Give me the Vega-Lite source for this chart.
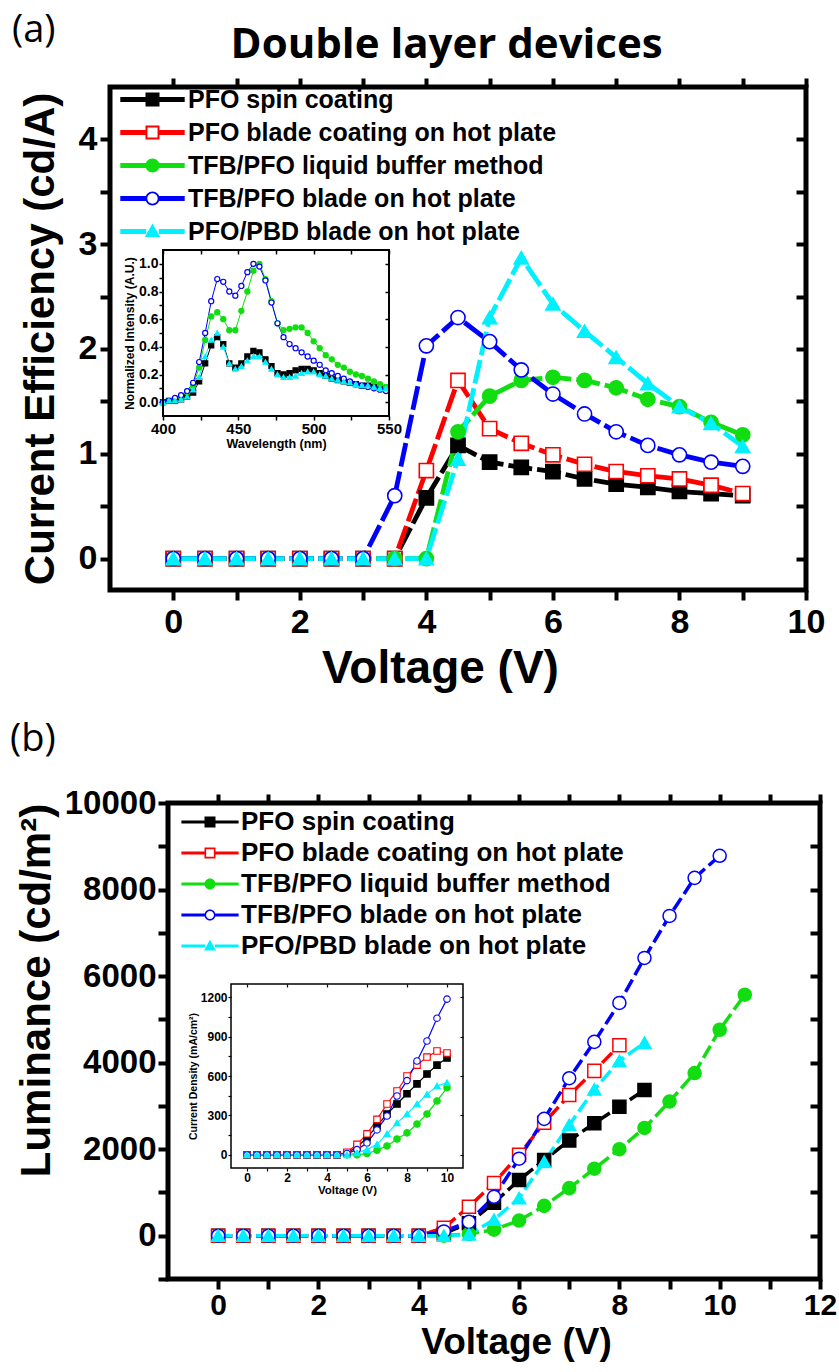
{
"$schema":"https://vega.github.io/schema/vega-lite/v6.json",
"width":839,"height":1372,"autosize":{"type":"none"},"padding":0,"background":"white",
"config":{"view":{"stroke":null},"font":"Liberation Sans","axis":{"grid":false,"labelFlush":false,"labelOverlap":false,"labelColor":"black","titleColor":"black","tickColor":"black","domainColor":"black","labelFont":"Liberation Sans","titleFont":"Liberation Sans","labelFontWeight":"bold","titleFontWeight":"bold"}},
"datasets":{
"ce":[
{"s":"PFO spin coating","v":0,"y":0},{"s":"PFO spin coating","v":0.5,"y":0},{"s":"PFO spin coating","v":1,"y":0},{"s":"PFO spin coating","v":1.5,"y":0},{"s":"PFO spin coating","v":2,"y":0},{"s":"PFO spin coating","v":2.5,"y":0},{"s":"PFO spin coating","v":3,"y":0},{"s":"PFO spin coating","v":3.5,"y":0},{"s":"PFO spin coating","v":4,"y":0.58},{"s":"PFO spin coating","v":4.5,"y":1.08},{"s":"PFO spin coating","v":5,"y":0.92},{"s":"PFO spin coating","v":5.5,"y":0.87},{"s":"PFO spin coating","v":6,"y":0.83},{"s":"PFO spin coating","v":6.5,"y":0.76},{"s":"PFO spin coating","v":7,"y":0.71},{"s":"PFO spin coating","v":7.5,"y":0.68},{"s":"PFO spin coating","v":8,"y":0.64},{"s":"PFO spin coating","v":8.5,"y":0.62},{"s":"PFO spin coating","v":9,"y":0.6},
{"s":"PFO blade coating on hot plate","v":0,"y":0},{"s":"PFO blade coating on hot plate","v":0.5,"y":0},{"s":"PFO blade coating on hot plate","v":1,"y":0},{"s":"PFO blade coating on hot plate","v":1.5,"y":0},{"s":"PFO blade coating on hot plate","v":2,"y":0},{"s":"PFO blade coating on hot plate","v":2.5,"y":0},{"s":"PFO blade coating on hot plate","v":3,"y":0},{"s":"PFO blade coating on hot plate","v":3.5,"y":0},{"s":"PFO blade coating on hot plate","v":4,"y":0.84},{"s":"PFO blade coating on hot plate","v":4.5,"y":1.7},{"s":"PFO blade coating on hot plate","v":5,"y":1.24},{"s":"PFO blade coating on hot plate","v":5.5,"y":1.1},{"s":"PFO blade coating on hot plate","v":6,"y":0.99},{"s":"PFO blade coating on hot plate","v":6.5,"y":0.9},{"s":"PFO blade coating on hot plate","v":7,"y":0.83},{"s":"PFO blade coating on hot plate","v":7.5,"y":0.79},{"s":"PFO blade coating on hot plate","v":8,"y":0.76},{"s":"PFO blade coating on hot plate","v":8.5,"y":0.7},{"s":"PFO blade coating on hot plate","v":9,"y":0.62},
{"s":"TFB/PFO liquid buffer method","v":0,"y":0},{"s":"TFB/PFO liquid buffer method","v":0.5,"y":0},{"s":"TFB/PFO liquid buffer method","v":1,"y":0},{"s":"TFB/PFO liquid buffer method","v":1.5,"y":0},{"s":"TFB/PFO liquid buffer method","v":2,"y":0},{"s":"TFB/PFO liquid buffer method","v":2.5,"y":0},{"s":"TFB/PFO liquid buffer method","v":3,"y":0},{"s":"TFB/PFO liquid buffer method","v":3.5,"y":0},{"s":"TFB/PFO liquid buffer method","v":4,"y":0},{"s":"TFB/PFO liquid buffer method","v":4.5,"y":1.21},{"s":"TFB/PFO liquid buffer method","v":5,"y":1.55},{"s":"TFB/PFO liquid buffer method","v":5.5,"y":1.7},{"s":"TFB/PFO liquid buffer method","v":6,"y":1.73},{"s":"TFB/PFO liquid buffer method","v":6.5,"y":1.7},{"s":"TFB/PFO liquid buffer method","v":7,"y":1.63},{"s":"TFB/PFO liquid buffer method","v":7.5,"y":1.52},{"s":"TFB/PFO liquid buffer method","v":8,"y":1.45},{"s":"TFB/PFO liquid buffer method","v":8.5,"y":1.3},{"s":"TFB/PFO liquid buffer method","v":9,"y":1.18},
{"s":"TFB/PFO blade on hot plate","v":0,"y":0},{"s":"TFB/PFO blade on hot plate","v":0.5,"y":0},{"s":"TFB/PFO blade on hot plate","v":1,"y":0},{"s":"TFB/PFO blade on hot plate","v":1.5,"y":0},{"s":"TFB/PFO blade on hot plate","v":2,"y":0},{"s":"TFB/PFO blade on hot plate","v":2.5,"y":0},{"s":"TFB/PFO blade on hot plate","v":3,"y":0},{"s":"TFB/PFO blade on hot plate","v":3.5,"y":0.6},{"s":"TFB/PFO blade on hot plate","v":4,"y":2.03},{"s":"TFB/PFO blade on hot plate","v":4.5,"y":2.3},{"s":"TFB/PFO blade on hot plate","v":5,"y":2.07},{"s":"TFB/PFO blade on hot plate","v":5.5,"y":1.8},{"s":"TFB/PFO blade on hot plate","v":6,"y":1.57},{"s":"TFB/PFO blade on hot plate","v":6.5,"y":1.38},{"s":"TFB/PFO blade on hot plate","v":7,"y":1.21},{"s":"TFB/PFO blade on hot plate","v":7.5,"y":1.08},{"s":"TFB/PFO blade on hot plate","v":8,"y":0.99},{"s":"TFB/PFO blade on hot plate","v":8.5,"y":0.92},{"s":"TFB/PFO blade on hot plate","v":9,"y":0.88},
{"s":"PFO/PBD blade on hot plate","v":0,"y":0},{"s":"PFO/PBD blade on hot plate","v":0.5,"y":0},{"s":"PFO/PBD blade on hot plate","v":1,"y":0},{"s":"PFO/PBD blade on hot plate","v":1.5,"y":0},{"s":"PFO/PBD blade on hot plate","v":2,"y":0},{"s":"PFO/PBD blade on hot plate","v":2.5,"y":0},{"s":"PFO/PBD blade on hot plate","v":3,"y":0},{"s":"PFO/PBD blade on hot plate","v":3.5,"y":0},{"s":"PFO/PBD blade on hot plate","v":4,"y":0},{"s":"PFO/PBD blade on hot plate","v":4.5,"y":0.95},{"s":"PFO/PBD blade on hot plate","v":5,"y":2.3},{"s":"PFO/PBD blade on hot plate","v":5.5,"y":2.87},{"s":"PFO/PBD blade on hot plate","v":6,"y":2.43},{"s":"PFO/PBD blade on hot plate","v":6.5,"y":2.17},{"s":"PFO/PBD blade on hot plate","v":7,"y":1.92},{"s":"PFO/PBD blade on hot plate","v":7.5,"y":1.67},{"s":"PFO/PBD blade on hot plate","v":8,"y":1.45},{"s":"PFO/PBD blade on hot plate","v":8.5,"y":1.29},{"s":"PFO/PBD blade on hot plate","v":9,"y":1.07}
],
"pl":[
{"s":"PFO spin coating","w":400,"y":0},{"s":"PFO spin coating","w":404,"y":0.01},{"s":"PFO spin coating","w":408,"y":0.01},{"s":"PFO spin coating","w":412,"y":0.02},{"s":"PFO spin coating","w":416,"y":0.04},{"s":"PFO spin coating","w":420,"y":0.07},{"s":"PFO spin coating","w":424,"y":0.15},{"s":"PFO spin coating","w":428,"y":0.28},{"s":"PFO spin coating","w":432,"y":0.41},{"s":"PFO spin coating","w":436,"y":0.47},{"s":"PFO spin coating","w":440,"y":0.42},{"s":"PFO spin coating","w":444,"y":0.28},{"s":"PFO spin coating","w":448,"y":0.25},{"s":"PFO spin coating","w":452,"y":0.28},{"s":"PFO spin coating","w":456,"y":0.33},{"s":"PFO spin coating","w":460,"y":0.37},{"s":"PFO spin coating","w":464,"y":0.36},{"s":"PFO spin coating","w":468,"y":0.31},{"s":"PFO spin coating","w":472,"y":0.26},{"s":"PFO spin coating","w":476,"y":0.21},{"s":"PFO spin coating","w":480,"y":0.2},{"s":"PFO spin coating","w":484,"y":0.21},{"s":"PFO spin coating","w":488,"y":0.23},{"s":"PFO spin coating","w":492,"y":0.24},{"s":"PFO spin coating","w":496,"y":0.24},{"s":"PFO spin coating","w":500,"y":0.23},{"s":"PFO spin coating","w":504,"y":0.21},{"s":"PFO spin coating","w":508,"y":0.19},{"s":"PFO spin coating","w":512,"y":0.17},{"s":"PFO spin coating","w":516,"y":0.16},{"s":"PFO spin coating","w":520,"y":0.15},{"s":"PFO spin coating","w":524,"y":0.14},{"s":"PFO spin coating","w":528,"y":0.13},{"s":"PFO spin coating","w":532,"y":0.12},{"s":"PFO spin coating","w":536,"y":0.12},{"s":"PFO spin coating","w":540,"y":0.11},{"s":"PFO spin coating","w":544,"y":0.1},{"s":"PFO spin coating","w":548,"y":0.09},
{"s":"TFB/PFO liquid buffer method","w":400,"y":0},{"s":"TFB/PFO liquid buffer method","w":404,"y":0.01},{"s":"TFB/PFO liquid buffer method","w":408,"y":0.02},{"s":"TFB/PFO liquid buffer method","w":412,"y":0.04},{"s":"TFB/PFO liquid buffer method","w":416,"y":0.07},{"s":"TFB/PFO liquid buffer method","w":420,"y":0.12},{"s":"TFB/PFO liquid buffer method","w":424,"y":0.25},{"s":"TFB/PFO liquid buffer method","w":428,"y":0.45},{"s":"TFB/PFO liquid buffer method","w":432,"y":0.62},{"s":"TFB/PFO liquid buffer method","w":436,"y":0.65},{"s":"TFB/PFO liquid buffer method","w":440,"y":0.6},{"s":"TFB/PFO liquid buffer method","w":444,"y":0.52},{"s":"TFB/PFO liquid buffer method","w":448,"y":0.52},{"s":"TFB/PFO liquid buffer method","w":452,"y":0.66},{"s":"TFB/PFO liquid buffer method","w":456,"y":0.8},{"s":"TFB/PFO liquid buffer method","w":460,"y":0.95},{"s":"TFB/PFO liquid buffer method","w":464,"y":1},{"s":"TFB/PFO liquid buffer method","w":468,"y":0.89},{"s":"TFB/PFO liquid buffer method","w":472,"y":0.73},{"s":"TFB/PFO liquid buffer method","w":476,"y":0.57},{"s":"TFB/PFO liquid buffer method","w":480,"y":0.52},{"s":"TFB/PFO liquid buffer method","w":484,"y":0.53},{"s":"TFB/PFO liquid buffer method","w":488,"y":0.54},{"s":"TFB/PFO liquid buffer method","w":492,"y":0.54},{"s":"TFB/PFO liquid buffer method","w":496,"y":0.5},{"s":"TFB/PFO liquid buffer method","w":500,"y":0.44},{"s":"TFB/PFO liquid buffer method","w":504,"y":0.39},{"s":"TFB/PFO liquid buffer method","w":508,"y":0.34},{"s":"TFB/PFO liquid buffer method","w":512,"y":0.31},{"s":"TFB/PFO liquid buffer method","w":516,"y":0.27},{"s":"TFB/PFO liquid buffer method","w":520,"y":0.25},{"s":"TFB/PFO liquid buffer method","w":524,"y":0.22},{"s":"TFB/PFO liquid buffer method","w":528,"y":0.2},{"s":"TFB/PFO liquid buffer method","w":532,"y":0.19},{"s":"TFB/PFO liquid buffer method","w":536,"y":0.17},{"s":"TFB/PFO liquid buffer method","w":540,"y":0.15},{"s":"TFB/PFO liquid buffer method","w":544,"y":0.13},{"s":"TFB/PFO liquid buffer method","w":548,"y":0.11},
{"s":"TFB/PFO blade on hot plate","w":400,"y":0},{"s":"TFB/PFO blade on hot plate","w":404,"y":0.01},{"s":"TFB/PFO blade on hot plate","w":408,"y":0.03},{"s":"TFB/PFO blade on hot plate","w":412,"y":0.05},{"s":"TFB/PFO blade on hot plate","w":416,"y":0.08},{"s":"TFB/PFO blade on hot plate","w":420,"y":0.14},{"s":"TFB/PFO blade on hot plate","w":424,"y":0.29},{"s":"TFB/PFO blade on hot plate","w":428,"y":0.5},{"s":"TFB/PFO blade on hot plate","w":432,"y":0.73},{"s":"TFB/PFO blade on hot plate","w":436,"y":0.89},{"s":"TFB/PFO blade on hot plate","w":440,"y":0.87},{"s":"TFB/PFO blade on hot plate","w":444,"y":0.8},{"s":"TFB/PFO blade on hot plate","w":448,"y":0.77},{"s":"TFB/PFO blade on hot plate","w":452,"y":0.84},{"s":"TFB/PFO blade on hot plate","w":456,"y":0.94},{"s":"TFB/PFO blade on hot plate","w":460,"y":1},{"s":"TFB/PFO blade on hot plate","w":464,"y":0.98},{"s":"TFB/PFO blade on hot plate","w":468,"y":0.88},{"s":"TFB/PFO blade on hot plate","w":472,"y":0.72},{"s":"TFB/PFO blade on hot plate","w":476,"y":0.57},{"s":"TFB/PFO blade on hot plate","w":480,"y":0.47},{"s":"TFB/PFO blade on hot plate","w":484,"y":0.42},{"s":"TFB/PFO blade on hot plate","w":488,"y":0.39},{"s":"TFB/PFO blade on hot plate","w":492,"y":0.36},{"s":"TFB/PFO blade on hot plate","w":496,"y":0.33},{"s":"TFB/PFO blade on hot plate","w":500,"y":0.3},{"s":"TFB/PFO blade on hot plate","w":504,"y":0.27},{"s":"TFB/PFO blade on hot plate","w":508,"y":0.23},{"s":"TFB/PFO blade on hot plate","w":512,"y":0.21},{"s":"TFB/PFO blade on hot plate","w":516,"y":0.19},{"s":"TFB/PFO blade on hot plate","w":520,"y":0.17},{"s":"TFB/PFO blade on hot plate","w":524,"y":0.15},{"s":"TFB/PFO blade on hot plate","w":528,"y":0.13},{"s":"TFB/PFO blade on hot plate","w":532,"y":0.12},{"s":"TFB/PFO blade on hot plate","w":536,"y":0.11},{"s":"TFB/PFO blade on hot plate","w":540,"y":0.1},{"s":"TFB/PFO blade on hot plate","w":544,"y":0.09},{"s":"TFB/PFO blade on hot plate","w":548,"y":0.08},
{"s":"PFO/PBD blade on hot plate","w":400,"y":0},{"s":"PFO/PBD blade on hot plate","w":404,"y":0.01},{"s":"PFO/PBD blade on hot plate","w":408,"y":0.01},{"s":"PFO/PBD blade on hot plate","w":412,"y":0.02},{"s":"PFO/PBD blade on hot plate","w":416,"y":0.04},{"s":"PFO/PBD blade on hot plate","w":420,"y":0.09},{"s":"PFO/PBD blade on hot plate","w":424,"y":0.18},{"s":"PFO/PBD blade on hot plate","w":428,"y":0.33},{"s":"PFO/PBD blade on hot plate","w":432,"y":0.45},{"s":"PFO/PBD blade on hot plate","w":436,"y":0.5},{"s":"PFO/PBD blade on hot plate","w":440,"y":0.4},{"s":"PFO/PBD blade on hot plate","w":444,"y":0.28},{"s":"PFO/PBD blade on hot plate","w":448,"y":0.24},{"s":"PFO/PBD blade on hot plate","w":452,"y":0.26},{"s":"PFO/PBD blade on hot plate","w":456,"y":0.3},{"s":"PFO/PBD blade on hot plate","w":460,"y":0.33},{"s":"PFO/PBD blade on hot plate","w":464,"y":0.33},{"s":"PFO/PBD blade on hot plate","w":468,"y":0.29},{"s":"PFO/PBD blade on hot plate","w":472,"y":0.24},{"s":"PFO/PBD blade on hot plate","w":476,"y":0.2},{"s":"PFO/PBD blade on hot plate","w":480,"y":0.18},{"s":"PFO/PBD blade on hot plate","w":484,"y":0.18},{"s":"PFO/PBD blade on hot plate","w":488,"y":0.19},{"s":"PFO/PBD blade on hot plate","w":492,"y":0.21},{"s":"PFO/PBD blade on hot plate","w":496,"y":0.22},{"s":"PFO/PBD blade on hot plate","w":500,"y":0.22},{"s":"PFO/PBD blade on hot plate","w":504,"y":0.2},{"s":"PFO/PBD blade on hot plate","w":508,"y":0.19},{"s":"PFO/PBD blade on hot plate","w":512,"y":0.17},{"s":"PFO/PBD blade on hot plate","w":516,"y":0.16},{"s":"PFO/PBD blade on hot plate","w":520,"y":0.15},{"s":"PFO/PBD blade on hot plate","w":524,"y":0.14},{"s":"PFO/PBD blade on hot plate","w":528,"y":0.13},{"s":"PFO/PBD blade on hot plate","w":532,"y":0.12},{"s":"PFO/PBD blade on hot plate","w":536,"y":0.12},{"s":"PFO/PBD blade on hot plate","w":540,"y":0.11},{"s":"PFO/PBD blade on hot plate","w":544,"y":0.1},{"s":"PFO/PBD blade on hot plate","w":548,"y":0.1}
],
"lum":[
{"s":"PFO spin coating","v":0,"y":0},{"s":"PFO spin coating","v":0.5,"y":0},{"s":"PFO spin coating","v":1,"y":0},{"s":"PFO spin coating","v":1.5,"y":0},{"s":"PFO spin coating","v":2,"y":0},{"s":"PFO spin coating","v":2.5,"y":0},{"s":"PFO spin coating","v":3,"y":0},{"s":"PFO spin coating","v":3.5,"y":0},{"s":"PFO spin coating","v":4,"y":0},{"s":"PFO spin coating","v":4.5,"y":50},{"s":"PFO spin coating","v":5,"y":290},{"s":"PFO spin coating","v":5.5,"y":760},{"s":"PFO spin coating","v":6,"y":1290},{"s":"PFO spin coating","v":6.5,"y":1750},{"s":"PFO spin coating","v":7,"y":2200},{"s":"PFO spin coating","v":7.5,"y":2600},{"s":"PFO spin coating","v":8,"y":2980},{"s":"PFO spin coating","v":8.5,"y":3370},
{"s":"PFO blade coating on hot plate","v":0,"y":0},{"s":"PFO blade coating on hot plate","v":0.5,"y":0},{"s":"PFO blade coating on hot plate","v":1,"y":0},{"s":"PFO blade coating on hot plate","v":1.5,"y":0},{"s":"PFO blade coating on hot plate","v":2,"y":0},{"s":"PFO blade coating on hot plate","v":2.5,"y":0},{"s":"PFO blade coating on hot plate","v":3,"y":0},{"s":"PFO blade coating on hot plate","v":3.5,"y":0},{"s":"PFO blade coating on hot plate","v":4,"y":0},{"s":"PFO blade coating on hot plate","v":4.5,"y":185},{"s":"PFO blade coating on hot plate","v":5,"y":670},{"s":"PFO blade coating on hot plate","v":5.5,"y":1220},{"s":"PFO blade coating on hot plate","v":6,"y":1870},{"s":"PFO blade coating on hot plate","v":6.5,"y":2610},{"s":"PFO blade coating on hot plate","v":7,"y":3250},{"s":"PFO blade coating on hot plate","v":7.5,"y":3810},{"s":"PFO blade coating on hot plate","v":8,"y":4400},
{"s":"TFB/PFO liquid buffer method","v":0,"y":0},{"s":"TFB/PFO liquid buffer method","v":0.5,"y":0},{"s":"TFB/PFO liquid buffer method","v":1,"y":0},{"s":"TFB/PFO liquid buffer method","v":1.5,"y":0},{"s":"TFB/PFO liquid buffer method","v":2,"y":0},{"s":"TFB/PFO liquid buffer method","v":2.5,"y":0},{"s":"TFB/PFO liquid buffer method","v":3,"y":0},{"s":"TFB/PFO liquid buffer method","v":3.5,"y":0},{"s":"TFB/PFO liquid buffer method","v":4,"y":0},{"s":"TFB/PFO liquid buffer method","v":4.5,"y":0},{"s":"TFB/PFO liquid buffer method","v":5,"y":40},{"s":"TFB/PFO liquid buffer method","v":5.5,"y":140},{"s":"TFB/PFO liquid buffer method","v":6,"y":350},{"s":"TFB/PFO liquid buffer method","v":6.5,"y":690},{"s":"TFB/PFO liquid buffer method","v":7,"y":1100},{"s":"TFB/PFO liquid buffer method","v":7.5,"y":1550},{"s":"TFB/PFO liquid buffer method","v":8,"y":2000},{"s":"TFB/PFO liquid buffer method","v":8.5,"y":2490},{"s":"TFB/PFO liquid buffer method","v":9,"y":3100},{"s":"TFB/PFO liquid buffer method","v":9.5,"y":3760},{"s":"TFB/PFO liquid buffer method","v":10,"y":4760},{"s":"TFB/PFO liquid buffer method","v":10.5,"y":5570},
{"s":"TFB/PFO blade on hot plate","v":0,"y":0},{"s":"TFB/PFO blade on hot plate","v":0.5,"y":0},{"s":"TFB/PFO blade on hot plate","v":1,"y":0},{"s":"TFB/PFO blade on hot plate","v":1.5,"y":0},{"s":"TFB/PFO blade on hot plate","v":2,"y":0},{"s":"TFB/PFO blade on hot plate","v":2.5,"y":0},{"s":"TFB/PFO blade on hot plate","v":3,"y":0},{"s":"TFB/PFO blade on hot plate","v":3.5,"y":0},{"s":"TFB/PFO blade on hot plate","v":4,"y":0},{"s":"TFB/PFO blade on hot plate","v":4.5,"y":100},{"s":"TFB/PFO blade on hot plate","v":5,"y":320},{"s":"TFB/PFO blade on hot plate","v":5.5,"y":900},{"s":"TFB/PFO blade on hot plate","v":6,"y":1780},{"s":"TFB/PFO blade on hot plate","v":6.5,"y":2700},{"s":"TFB/PFO blade on hot plate","v":7,"y":3640},{"s":"TFB/PFO blade on hot plate","v":7.5,"y":4480},{"s":"TFB/PFO blade on hot plate","v":8,"y":5380},{"s":"TFB/PFO blade on hot plate","v":8.5,"y":6420},{"s":"TFB/PFO blade on hot plate","v":9,"y":7390},{"s":"TFB/PFO blade on hot plate","v":9.5,"y":8270},{"s":"TFB/PFO blade on hot plate","v":10,"y":8780},
{"s":"PFO/PBD blade on hot plate","v":0,"y":0},{"s":"PFO/PBD blade on hot plate","v":0.5,"y":0},{"s":"PFO/PBD blade on hot plate","v":1,"y":0},{"s":"PFO/PBD blade on hot plate","v":1.5,"y":0},{"s":"PFO/PBD blade on hot plate","v":2,"y":0},{"s":"PFO/PBD blade on hot plate","v":2.5,"y":0},{"s":"PFO/PBD blade on hot plate","v":3,"y":0},{"s":"PFO/PBD blade on hot plate","v":3.5,"y":0},{"s":"PFO/PBD blade on hot plate","v":4,"y":0},{"s":"PFO/PBD blade on hot plate","v":4.5,"y":0},{"s":"PFO/PBD blade on hot plate","v":5,"y":30},{"s":"PFO/PBD blade on hot plate","v":5.5,"y":370},{"s":"PFO/PBD blade on hot plate","v":6,"y":870},{"s":"PFO/PBD blade on hot plate","v":6.5,"y":1710},{"s":"PFO/PBD blade on hot plate","v":7,"y":2560},{"s":"PFO/PBD blade on hot plate","v":7.5,"y":3380},{"s":"PFO/PBD blade on hot plate","v":8,"y":4040},{"s":"PFO/PBD blade on hot plate","v":8.5,"y":4460}
],
"jv":[
{"s":"PFO spin coating","v":0,"y":0},{"s":"PFO spin coating","v":0.5,"y":0},{"s":"PFO spin coating","v":1,"y":0},{"s":"PFO spin coating","v":1.5,"y":0},{"s":"PFO spin coating","v":2,"y":0},{"s":"PFO spin coating","v":2.5,"y":0},{"s":"PFO spin coating","v":3,"y":0},{"s":"PFO spin coating","v":3.5,"y":0},{"s":"PFO spin coating","v":4,"y":0},{"s":"PFO spin coating","v":4.5,"y":0},{"s":"PFO spin coating","v":5,"y":15},{"s":"PFO spin coating","v":5.5,"y":60},{"s":"PFO spin coating","v":6,"y":130},{"s":"PFO spin coating","v":6.5,"y":220},{"s":"PFO spin coating","v":7,"y":311},{"s":"PFO spin coating","v":7.5,"y":387},{"s":"PFO spin coating","v":8,"y":465},{"s":"PFO spin coating","v":8.5,"y":540},{"s":"PFO spin coating","v":9,"y":615},{"s":"PFO spin coating","v":9.5,"y":683},{"s":"PFO spin coating","v":10,"y":737},
{"s":"PFO blade coating on hot plate","v":0,"y":0},{"s":"PFO blade coating on hot plate","v":0.5,"y":0},{"s":"PFO blade coating on hot plate","v":1,"y":0},{"s":"PFO blade coating on hot plate","v":1.5,"y":0},{"s":"PFO blade coating on hot plate","v":2,"y":0},{"s":"PFO blade coating on hot plate","v":2.5,"y":0},{"s":"PFO blade coating on hot plate","v":3,"y":0},{"s":"PFO blade coating on hot plate","v":3.5,"y":0},{"s":"PFO blade coating on hot plate","v":4,"y":0},{"s":"PFO blade coating on hot plate","v":4.5,"y":0},{"s":"PFO blade coating on hot plate","v":5,"y":20},{"s":"PFO blade coating on hot plate","v":5.5,"y":80},{"s":"PFO blade coating on hot plate","v":6,"y":160},{"s":"PFO blade coating on hot plate","v":6.5,"y":270},{"s":"PFO blade coating on hot plate","v":7,"y":387},{"s":"PFO blade coating on hot plate","v":7.5,"y":486},{"s":"PFO blade coating on hot plate","v":8,"y":600},{"s":"PFO blade coating on hot plate","v":8.5,"y":683},{"s":"PFO blade coating on hot plate","v":9,"y":744},{"s":"PFO blade coating on hot plate","v":9.5,"y":790},{"s":"PFO blade coating on hot plate","v":10,"y":775},
{"s":"TFB/PFO liquid buffer method","v":0,"y":0},{"s":"TFB/PFO liquid buffer method","v":0.5,"y":0},{"s":"TFB/PFO liquid buffer method","v":1,"y":0},{"s":"TFB/PFO liquid buffer method","v":1.5,"y":0},{"s":"TFB/PFO liquid buffer method","v":2,"y":0},{"s":"TFB/PFO liquid buffer method","v":2.5,"y":0},{"s":"TFB/PFO liquid buffer method","v":3,"y":0},{"s":"TFB/PFO liquid buffer method","v":3.5,"y":0},{"s":"TFB/PFO liquid buffer method","v":4,"y":0},{"s":"TFB/PFO liquid buffer method","v":4.5,"y":0},{"s":"TFB/PFO liquid buffer method","v":5,"y":0},{"s":"TFB/PFO liquid buffer method","v":5.5,"y":0},{"s":"TFB/PFO liquid buffer method","v":6,"y":10},{"s":"TFB/PFO liquid buffer method","v":6.5,"y":35},{"s":"TFB/PFO liquid buffer method","v":7,"y":68},{"s":"TFB/PFO liquid buffer method","v":7.5,"y":121},{"s":"TFB/PFO liquid buffer method","v":8,"y":167},{"s":"TFB/PFO liquid buffer method","v":8.5,"y":235},{"s":"TFB/PFO liquid buffer method","v":9,"y":311},{"s":"TFB/PFO liquid buffer method","v":9.5,"y":410},{"s":"TFB/PFO liquid buffer method","v":10,"y":510},
{"s":"TFB/PFO blade on hot plate","v":0,"y":0},{"s":"TFB/PFO blade on hot plate","v":0.5,"y":0},{"s":"TFB/PFO blade on hot plate","v":1,"y":0},{"s":"TFB/PFO blade on hot plate","v":1.5,"y":0},{"s":"TFB/PFO blade on hot plate","v":2,"y":0},{"s":"TFB/PFO blade on hot plate","v":2.5,"y":0},{"s":"TFB/PFO blade on hot plate","v":3,"y":0},{"s":"TFB/PFO blade on hot plate","v":3.5,"y":0},{"s":"TFB/PFO blade on hot plate","v":4,"y":0},{"s":"TFB/PFO blade on hot plate","v":4.5,"y":0},{"s":"TFB/PFO blade on hot plate","v":5,"y":10},{"s":"TFB/PFO blade on hot plate","v":5.5,"y":40},{"s":"TFB/PFO blade on hot plate","v":6,"y":90},{"s":"TFB/PFO blade on hot plate","v":6.5,"y":190},{"s":"TFB/PFO blade on hot plate","v":7,"y":296},{"s":"TFB/PFO blade on hot plate","v":7.5,"y":448},{"s":"TFB/PFO blade on hot plate","v":8,"y":565},{"s":"TFB/PFO blade on hot plate","v":8.5,"y":714},{"s":"TFB/PFO blade on hot plate","v":9,"y":866},{"s":"TFB/PFO blade on hot plate","v":9.5,"y":1040},{"s":"TFB/PFO blade on hot plate","v":10,"y":1185},
{"s":"PFO/PBD blade on hot plate","v":0,"y":0},{"s":"PFO/PBD blade on hot plate","v":0.5,"y":0},{"s":"PFO/PBD blade on hot plate","v":1,"y":0},{"s":"PFO/PBD blade on hot plate","v":1.5,"y":0},{"s":"PFO/PBD blade on hot plate","v":2,"y":0},{"s":"PFO/PBD blade on hot plate","v":2.5,"y":0},{"s":"PFO/PBD blade on hot plate","v":3,"y":0},{"s":"PFO/PBD blade on hot plate","v":3.5,"y":0},{"s":"PFO/PBD blade on hot plate","v":4,"y":0},{"s":"PFO/PBD blade on hot plate","v":4.5,"y":0},{"s":"PFO/PBD blade on hot plate","v":5,"y":0},{"s":"PFO/PBD blade on hot plate","v":5.5,"y":15},{"s":"PFO/PBD blade on hot plate","v":6,"y":40},{"s":"PFO/PBD blade on hot plate","v":6.5,"y":80},{"s":"PFO/PBD blade on hot plate","v":7,"y":160},{"s":"PFO/PBD blade on hot plate","v":7.5,"y":243},{"s":"PFO/PBD blade on hot plate","v":8,"y":311},{"s":"PFO/PBD blade on hot plate","v":8.5,"y":387},{"s":"PFO/PBD blade on hot plate","v":9,"y":460},{"s":"PFO/PBD blade on hot plate","v":9.5,"y":524},{"s":"PFO/PBD blade on hot plate","v":10,"y":550}
]
},
"resolve":{"scale":{"x":"independent","y":"independent","color":"independent","stroke":"independent","fill":"independent","shape":"independent"},"axis":{"x":"independent","y":"independent"},"legend":{"color":"independent","stroke":"independent","fill":"independent","shape":"independent"}},
"layer":[
{
"data":{"name":"ce"},
"layer":[
{"mark":{"type":"line","strokeWidth":4.8,"strokeDash":[24,5]},
"encoding":{
"x":{"field":"v","type":"quantitative","scale":{"domain":[-1,10],"range":[110,806],"nice":false,"zero":false},"axis":{"orient":"bottom","offset":-782,"values":[0,1,2,3,4,5,6,7,8,9,10],"format":"d","labelExpr":"datum.value % 2 === 0 ? datum.label : ''","title":"Voltage (V)","titleX":440,"domain":false,"tickWidth":4,"tickSize":10,"labelFontSize":34,"labelPadding":5,"titleFontSize":46,"titlePadding":7}},
"y":{"field":"y","type":"quantitative","scale":{"domain":[-0.3,4.5],"range":[590,87],"nice":false,"zero":false},"axis":{"orient":"left","offset":-110,"values":[0,0.5,1,1.5,2,2.5,3,3.5,4],"format":".0f","labelExpr":"datum.value % 1 === 0 ? datum.label : ''","title":"Current Efficiency (cd/A)","domain":false,"tickWidth":4,"tickSize":10,"labelFontSize":34,"labelPadding":3,"titleFontSize":42,"titlePadding":16}},
"color":{"field":"s","type":"nominal","scale":{"domain":["PFO spin coating","PFO blade coating on hot plate","TFB/PFO liquid buffer method","TFB/PFO blade on hot plate","PFO/PBD blade on hot plate"],"range":["#000000","#ff0000","#11dd11","#0000ff","#00f0ff"]},
"legend":{"orient":"none","legendX":140,"legendY":87,"title":null,"padding":0,"symbolSize":196,"labelOffset":23,"rowPadding":7,"labelFont":"Liberation Sans","labelFontWeight":"bold","labelFontSize":25,"labelColor":"black","labelLimit":800,
"encode":{"symbols":{"update":{
"shape":{"signal":"datum.value === 'PFO spin coating' ? 'M-4.6,-0.35H-0.9V0.35H-4.6ZM0.9,-0.35H4.6V0.35H0.9ZM-1,-1H1V1H-1Z' : datum.value === 'PFO blade coating on hot plate' ? 'M-4.6,-0.35H-0.9V0.35H-4.6ZM0.9,-0.35H4.6V0.35H0.9ZM-1,-1H1V1H-1ZM-0.72,-0.72V0.72H0.72V-0.72Z' : datum.value === 'TFB/PFO liquid buffer method' ? 'M-4.6,-0.35H-0.9V0.35H-4.6ZM0.9,-0.35H4.6V0.35H0.9ZM-1,0A1,1 0 1,1 1,0A1,1 0 1,1 -1,0Z' : datum.value === 'TFB/PFO blade on hot plate' ? 'M-4.6,-0.35H-0.9V0.35H-4.6ZM0.9,-0.35H4.6V0.35H0.9ZM-1,0A1,1 0 1,1 1,0A1,1 0 1,1 -1,0ZM-0.74,0A0.74,0.74 0 1,0 0.74,0A0.74,0.74 0 1,0 -0.74,0Z' : 'M-4.6,-0.35H-0.9V0.35H-4.6ZM0.9,-0.35H4.6V0.35H0.9ZM0,-1.15L1.1,0.8H-1.1Z'"},
"fill":{"signal":"datum.value === 'PFO spin coating' ? '#000000' : datum.value === 'PFO blade coating on hot plate' ? '#ff0000' : datum.value === 'TFB/PFO liquid buffer method' ? '#11dd11' : datum.value === 'TFB/PFO blade on hot plate' ? '#0000ff' : '#00f0ff'"},
"fillOpacity":{"value":1},"opacity":{"value":1},"stroke":{"value":"transparent"},"strokeWidth":{"value":0},"size":{"value":196}}}}}}
}},
{"mark":{"type":"point","size":200,"strokeWidth":1.6,"opacity":1,"fillOpacity":1},
"encoding":{
"x":{"field":"v","type":"quantitative"},
"y":{"field":"y","type":"quantitative"},
"shape":{"field":"s","type":"nominal","scale":{"domain":["PFO/PBD blade on hot plate","TFB/PFO blade on hot plate","TFB/PFO liquid buffer method","PFO blade coating on hot plate","PFO spin coating"],"range":["triangle-up","circle","circle","square","square"]},"legend":null},
"stroke":{"field":"s","type":"nominal","scale":{"domain":["PFO/PBD blade on hot plate","TFB/PFO blade on hot plate","TFB/PFO liquid buffer method","PFO blade coating on hot plate","PFO spin coating"],"range":["#00f0ff","#0000ff","#11dd11","#ff0000","#000000"]},"legend":null},
"fill":{"field":"s","type":"nominal","scale":{"domain":["PFO/PBD blade on hot plate","TFB/PFO blade on hot plate","TFB/PFO liquid buffer method","PFO blade coating on hot plate","PFO spin coating"],"range":["#00f0ff","#ffffff","#11dd11","#ffffff","#000000"]},"legend":null}
}},
{"data":{"values":[{"t":"(a)"}]},"mark":{"type":"text","align":"left","baseline":"middle","font":"Open Sans","fontSize":38,"color":"black"},
"encoding":{"x":{"datum":-2.55,"type":"quantitative"},"y":{"datum":5.03,"type":"quantitative"},"text":{"field":"t"}}},
{"data":{"values":[{"t":"Double layer devices"}]},"mark":{"type":"text","align":"center","baseline":"middle","font":"Open Sans","fontWeight":"bold","fontSize":42,"color":"black"},
"encoding":{"x":{"datum":4.32,"type":"quantitative"},"y":{"datum":4.9,"type":"quantitative"},"text":{"field":"t"}}}
]
},
{
"data":{"values":[{}]},
"mark":{"type":"rect","fill":"transparent","stroke":"black","strokeWidth":5},
"encoding":{
"x":{"datum":-1,"type":"quantitative","scale":{"domain":[-1,10],"range":[110,806],"nice":false,"zero":false},"axis":{"orient":"top","offset":-87,"values":[0,1,2,3,4,5,6,7,8,9,10],"labels":false,"title":null,"domain":false,"tickWidth":4,"tickSize":9}},
"x2":{"datum":10},
"y":{"datum":-0.3,"type":"quantitative","scale":{"domain":[-0.3,4.5],"range":[590,87],"nice":false,"zero":false},"axis":{"orient":"right","offset":-33,"values":[0,0.5,1,1.5,2,2.5,3,3.5,4],"labels":false,"title":null,"domain":false,"tickWidth":4,"tickSize":-10}},
"y2":{"datum":4.5}
}
},
{
"data":{"name":"pl"},
"layer":[
{"mark":{"type":"line","strokeWidth":1},
"encoding":{
"x":{"field":"w","type":"quantitative","scale":{"domain":[400,550],"range":[163,389],"nice":false,"zero":false},"axis":{"orient":"bottom","offset":-956,"values":[400,425,450,475,500,525,550],"format":"d","labelExpr":"datum.value % 50 === 0 ? datum.label : ''","title":"Wavelength (nm)","domain":false,"tickWidth":1.5,"tickSize":4,"labelFontSize":15,"labelPadding":1,"titleFontSize":12.5,"titlePadding":1}},
"y":{"field":"y","type":"quantitative","scale":{"domain":[-0.1,1.1],"range":[416,250],"nice":false,"zero":false},"axis":{"orient":"left","offset":-163,"values":[0,0.1,0.2,0.3,0.4,0.5,0.6,0.7,0.8,0.9,1],"format":".1f","labelExpr":"round(datum.value*10) % 2 === 0 ? datum.label : ''","title":"Normalized Intensity (A.U.)","domain":false,"tickWidth":1.5,"tickSize":4,"labelFontSize":14,"labelPadding":1,"titleFontSize":12,"titlePadding":2}},
"color":{"field":"s","type":"nominal","scale":{"domain":["PFO spin coating","TFB/PFO liquid buffer method","TFB/PFO blade on hot plate","PFO/PBD blade on hot plate"],"range":["#000000","#11dd11","#0000ff","#00f0ff"]},"legend":null}
}},
{"mark":{"type":"point","size":26,"strokeWidth":1.2,"opacity":1,"fillOpacity":1},
"encoding":{
"x":{"field":"w","type":"quantitative"},
"y":{"field":"y","type":"quantitative"},
"shape":{"field":"s","type":"nominal","scale":{"domain":["PFO spin coating","TFB/PFO liquid buffer method","TFB/PFO blade on hot plate","PFO/PBD blade on hot plate"],"range":["square","circle","circle","triangle-up"]},"legend":null},
"stroke":{"field":"s","type":"nominal","scale":{"domain":["PFO spin coating","TFB/PFO liquid buffer method","TFB/PFO blade on hot plate","PFO/PBD blade on hot plate"],"range":["#000000","#11dd11","#0000ff","#00f0ff"]},"legend":null},
"fill":{"field":"s","type":"nominal","scale":{"domain":["PFO spin coating","TFB/PFO liquid buffer method","TFB/PFO blade on hot plate","PFO/PBD blade on hot plate"],"range":["#000000","#11dd11","#ffffff","#00f0ff"]},"legend":null}
}}
]
},
{
"data":{"values":[{}]},
"mark":{"type":"rect","fill":"transparent","stroke":"black","strokeWidth":2},
"encoding":{
"x":{"datum":400,"type":"quantitative","scale":{"domain":[400,550],"range":[163,389],"nice":false,"zero":false},"axis":{"orient":"top","offset":-250,"values":[400,425,450,475,500,525,550],"labels":false,"title":null,"domain":false,"tickWidth":1.5,"tickSize":-4}},
"x2":{"datum":550},
"y":{"datum":-0.1,"type":"quantitative","scale":{"domain":[-0.1,1.1],"range":[416,250],"nice":false,"zero":false},"axis":{"orient":"right","offset":-450,"values":[0,0.2,0.4,0.6,0.8,1],"labels":false,"title":null,"domain":false,"tickWidth":1.5,"tickSize":-4}},
"y2":{"datum":1.1}
}
},
{
"data":{"name":"lum"},
"layer":[
{"mark":{"type":"line","strokeWidth":3.5,"strokeDash":[14,5]},
"encoding":{
"x":{"field":"v","type":"quantitative","scale":{"domain":[-1,12],"range":[168,820],"nice":false,"zero":false},"axis":{"orient":"bottom","offset":-93,"values":[0,1,2,3,4,5,6,7,8,9,10,11,12],"format":"d","labelExpr":"datum.value % 2 === 0 ? datum.label : ''","title":"Voltage (V)","titleX":516,"domain":false,"tickWidth":4,"tickSize":10,"labelFontSize":30,"labelPadding":1,"titleFontSize":37,"titlePadding":4}},
"y":{"field":"y","type":"quantitative","scale":{"domain":[-1000,10000],"range":[1279,803],"nice":false,"zero":false},"axis":{"orient":"left","offset":-168,"values":[-1000,0,1000,2000,3000,4000,5000,6000,7000,8000,9000,10000],"format":"d","labelExpr":"datum.value % 2000 === 0 ? datum.label : ''","title":"Luminance (cd/m²)","titleY":990,"domain":false,"tickWidth":4,"tickSize":10,"labelFontSize":33,"labelPadding":2,"titleFontSize":42,"titlePadding":6}},
"color":{"field":"s","type":"nominal","scale":{"domain":["PFO spin coating","PFO blade coating on hot plate","TFB/PFO liquid buffer method","TFB/PFO blade on hot plate","PFO/PBD blade on hot plate"],"range":["#000000","#ff0000","#11dd11","#0000ff","#00f0ff"]},
"legend":{"orient":"none","legendX":197,"legendY":809,"title":null,"padding":0,"symbolSize":121,"labelOffset":18,"rowPadding":5,"labelFont":"Liberation Sans","labelFontWeight":"bold","labelFontSize":26,"labelColor":"black","labelLimit":800,
"encode":{"symbols":{"update":{
"shape":{"signal":"datum.value === 'PFO spin coating' ? 'M-5.2,-0.28H-0.9V0.28H-5.2ZM0.9,-0.28H5.2V0.28H0.9ZM-1,-1H1V1H-1Z' : datum.value === 'PFO blade coating on hot plate' ? 'M-5.2,-0.28H-0.9V0.28H-5.2ZM0.9,-0.28H5.2V0.28H0.9ZM-1,-1H1V1H-1ZM-0.7,-0.7V0.7H0.7V-0.7Z' : datum.value === 'TFB/PFO liquid buffer method' ? 'M-5.2,-0.28H-0.9V0.28H-5.2ZM0.9,-0.28H5.2V0.28H0.9ZM-1,0A1,1 0 1,1 1,0A1,1 0 1,1 -1,0Z' : datum.value === 'TFB/PFO blade on hot plate' ? 'M-5.2,-0.28H-0.9V0.28H-5.2ZM0.9,-0.28H5.2V0.28H0.9ZM-1,0A1,1 0 1,1 1,0A1,1 0 1,1 -1,0ZM-0.72,0A0.72,0.72 0 1,0 0.72,0A0.72,0.72 0 1,0 -0.72,0Z' : 'M-5.2,-0.28H-0.9V0.28H-5.2ZM0.9,-0.28H5.2V0.28H0.9ZM0,-1.15L1.1,0.8H-1.1Z'"},
"fill":{"signal":"datum.value === 'PFO spin coating' ? '#000000' : datum.value === 'PFO blade coating on hot plate' ? '#ff0000' : datum.value === 'TFB/PFO liquid buffer method' ? '#11dd11' : datum.value === 'TFB/PFO blade on hot plate' ? '#0000ff' : '#00f0ff'"},
"fillOpacity":{"value":1},"opacity":{"value":1},"stroke":{"value":"transparent"},"strokeWidth":{"value":0},"size":{"value":121}}}}}}
}},
{"mark":{"type":"point","size":170,"strokeWidth":1.5,"opacity":1,"fillOpacity":1},
"encoding":{
"x":{"field":"v","type":"quantitative"},
"y":{"field":"y","type":"quantitative"},
"shape":{"field":"s","type":"nominal","scale":{"domain":["PFO/PBD blade on hot plate","TFB/PFO blade on hot plate","TFB/PFO liquid buffer method","PFO blade coating on hot plate","PFO spin coating"],"range":["triangle-up","circle","circle","square","square"]},"legend":null},
"stroke":{"field":"s","type":"nominal","scale":{"domain":["PFO/PBD blade on hot plate","TFB/PFO blade on hot plate","TFB/PFO liquid buffer method","PFO blade coating on hot plate","PFO spin coating"],"range":["#00f0ff","#0000ff","#11dd11","#ff0000","#000000"]},"legend":null},
"fill":{"field":"s","type":"nominal","scale":{"domain":["PFO/PBD blade on hot plate","TFB/PFO blade on hot plate","TFB/PFO liquid buffer method","PFO blade coating on hot plate","PFO spin coating"],"range":["#00f0ff","#ffffff","#11dd11","#ffffff","#000000"]},"legend":null}
}},
{"data":{"values":[{"t":"(b)"}]},"mark":{"type":"text","align":"left","baseline":"middle","font":"Open Sans","fontSize":38,"color":"black"},
"encoding":{"x":{"datum":-4.15,"type":"quantitative"},"y":{"datum":11456,"type":"quantitative"},"text":{"field":"t"}}}
]
},
{
"data":{"values":[{}]},
"mark":{"type":"rect","fill":"transparent","stroke":"black","strokeWidth":5},
"encoding":{
"x":{"datum":-1,"type":"quantitative","scale":{"domain":[-1,12],"range":[168,820],"nice":false,"zero":false},"axis":{"orient":"top","offset":-803,"values":[0,1,2,3,4,5,6,7,8,9,10,11,12],"labels":false,"title":null,"domain":false,"tickWidth":4,"tickSize":9}},
"x2":{"datum":12},
"y":{"datum":-1000,"type":"quantitative","scale":{"domain":[-1000,10000],"range":[1279,803],"nice":false,"zero":false},"axis":{"orient":"right","offset":-19,"values":[0,1000,2000,3000,4000,5000,6000,7000,8000,9000],"labels":false,"title":null,"domain":false,"tickWidth":4,"tickSize":-10}},
"y2":{"datum":10000}
}
},
{
"data":{"name":"jv"},
"layer":[
{"mark":{"type":"line","strokeWidth":1.2},
"encoding":{
"x":{"field":"v","type":"quantitative","scale":{"domain":[-0.8,10.8],"range":[231,463],"nice":false,"zero":false},"axis":{"orient":"bottom","offset":-204,"values":[0,1,2,3,4,5,6,7,8,9,10],"format":"d","labelExpr":"datum.value % 2 === 0 ? datum.label : ''","title":"Voltage (V)","domain":false,"tickWidth":1.2,"tickSize":3,"labelFontSize":12,"labelPadding":1,"titleFontSize":11.5,"titlePadding":1}},
"y":{"field":"y","type":"quantitative","scale":{"domain":[-100,1300],"range":[1168,984],"nice":false,"zero":false},"axis":{"orient":"left","offset":-231,"values":[0,150,300,450,600,750,900,1050,1200],"format":"d","labelExpr":"datum.value % 300 === 0 ? datum.label : ''","title":"Current Density (mA/cm²)","domain":false,"tickWidth":1.2,"tickSize":3,"labelFontSize":12,"labelPadding":1,"titleFontSize":10.5,"titlePadding":2}},
"color":{"field":"s","type":"nominal","scale":{"domain":["PFO spin coating","PFO blade coating on hot plate","TFB/PFO liquid buffer method","TFB/PFO blade on hot plate","PFO/PBD blade on hot plate"],"range":["#000000","#ff0000","#11dd11","#0000ff","#00f0ff"]},"legend":null}
}},
{"mark":{"type":"point","size":42,"strokeWidth":1.1,"opacity":1,"fillOpacity":1},
"encoding":{
"x":{"field":"v","type":"quantitative"},
"y":{"field":"y","type":"quantitative"},
"shape":{"field":"s","type":"nominal","scale":{"domain":["PFO spin coating","PFO blade coating on hot plate","TFB/PFO liquid buffer method","TFB/PFO blade on hot plate","PFO/PBD blade on hot plate"],"range":["square","square","circle","circle","triangle-up"]},"legend":null},
"stroke":{"field":"s","type":"nominal","scale":{"domain":["PFO spin coating","PFO blade coating on hot plate","TFB/PFO liquid buffer method","TFB/PFO blade on hot plate","PFO/PBD blade on hot plate"],"range":["#000000","#ff0000","#11dd11","#0000ff","#00f0ff"]},"legend":null},
"fill":{"field":"s","type":"nominal","scale":{"domain":["PFO spin coating","PFO blade coating on hot plate","TFB/PFO liquid buffer method","TFB/PFO blade on hot plate","PFO/PBD blade on hot plate"],"range":["#000000","#ffffff","#11dd11","#ffffff","#00f0ff"]},"legend":null}
}}
]
},
{
"data":{"values":[{}]},
"mark":{"type":"rect","fill":"transparent","stroke":"black","strokeWidth":1.5},
"encoding":{
"x":{"datum":-0.8,"type":"quantitative","scale":{"domain":[-0.8,10.8],"range":[231,463],"nice":false,"zero":false},"axis":{"orient":"top","offset":-984,"values":[0,2,4,6,8,10],"labels":false,"title":null,"domain":false,"tickWidth":1.2,"tickSize":-3}},
"x2":{"datum":10.8},
"y":{"datum":-100,"type":"quantitative","scale":{"domain":[-100,1300],"range":[1168,984],"nice":false,"zero":false},"axis":{"orient":"right","offset":-376,"values":[0,300,600,900,1200],"labels":false,"title":null,"domain":false,"tickWidth":1.2,"tickSize":-3}},
"y2":{"datum":1300}
}
}
]
}
